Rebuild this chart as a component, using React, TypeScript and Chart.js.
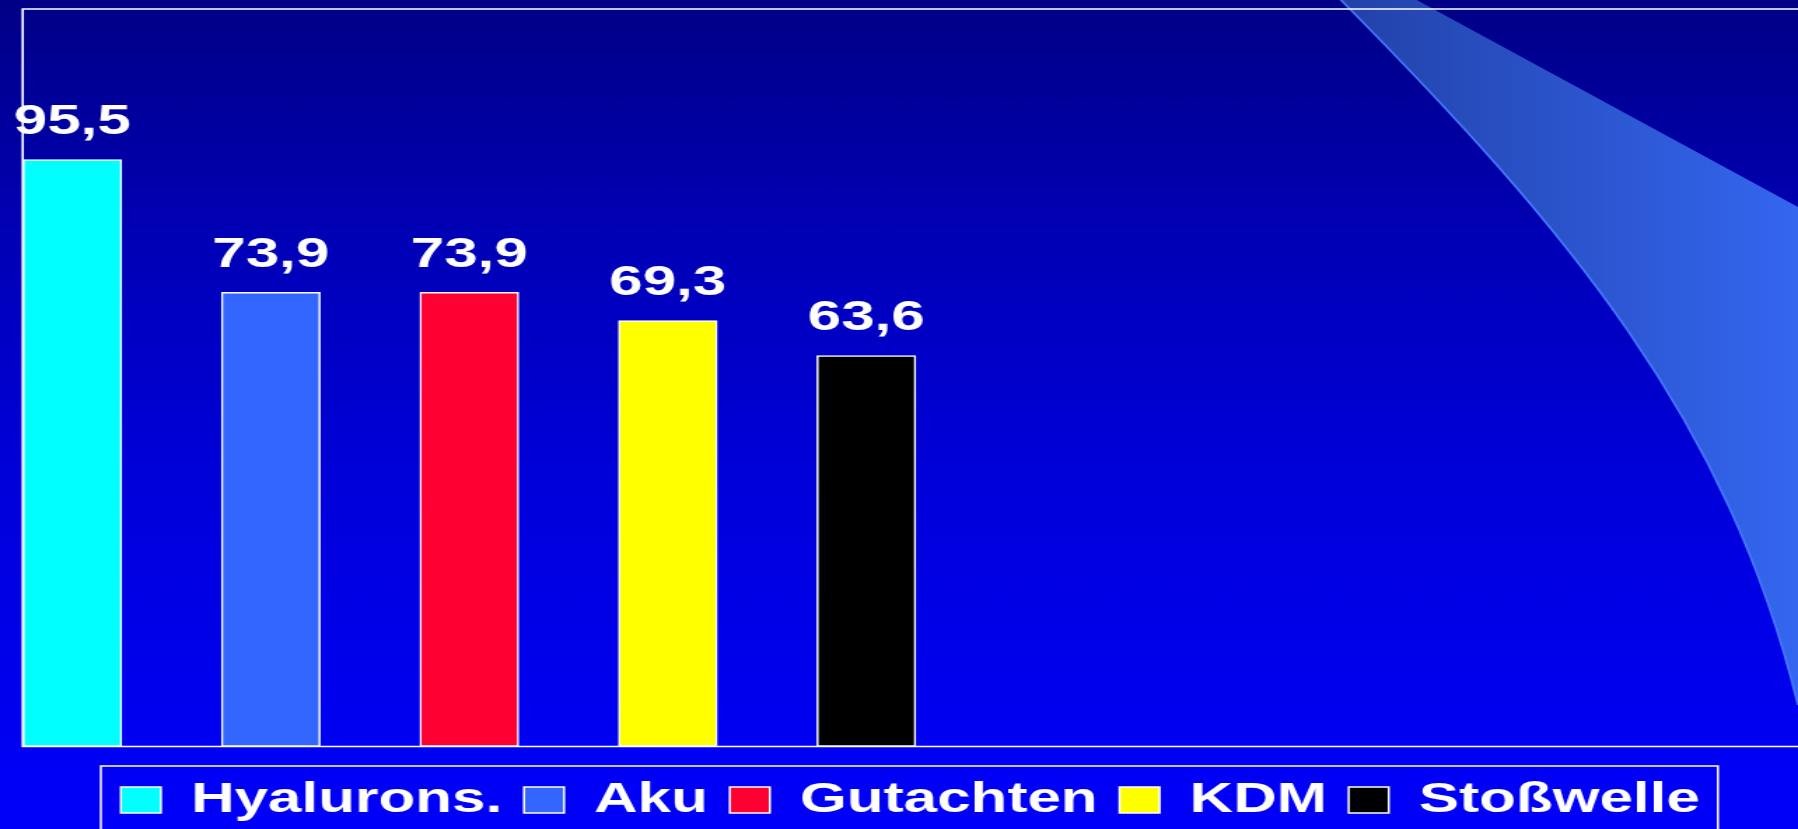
import React, { useEffect, useRef } from 'react';
import { Chart, registerables } from 'chart.js';

Chart.register(...registerables);

// ---- data ----
const categories = ['Hyalurons.', 'Aku', 'Gutachten', 'KDM', 'Stoßwelle'];
const values = [95.5, 73.9, 73.9, 69.3, 63.6];
const colors = ['#00FFFF', '#3366FF', '#FF0033', '#FFFF00', '#000000'];
const yMin = 0;
const yMax = 120;

// ---- geometry (the slide is a 4:3 picture stretched horizontally) ----
const FULL_W = 1798;
const H = 829;
const CW = 1284; // drawing width of the canvas, stretched by CSS to FULL_W
const S = FULL_W / CW;

const fmt = (v: number) => v.toFixed(1).replace('.', ',');

const backgroundPlugin = {
  id: 'slideBackground',
  beforeDraw(chart: any) {
    const ctx = chart.ctx as CanvasRenderingContext2D;
    ctx.save();
    const g = ctx.createLinearGradient(0, 0, 0, H);
    g.addColorStop(0, '#000086');
    g.addColorStop(0.3, '#0000B8');
    g.addColorStop(0.6, '#0000DC');
    g.addColorStop(1, '#0000FA');
    ctx.fillStyle = g;
    ctx.fillRect(0, 0, CW, H);

    // decorative swoosh (full-size coordinates converted to canvas units)
    const X = (x: number) => x / S;
    const band = ctx.createLinearGradient(X(1340), 0, X(1798), 0);
    band.addColorStop(0, 'rgb(34,66,168)');
    band.addColorStop(1, 'rgb(52,102,240)');
    ctx.beginPath();
    ctx.moveTo(X(1339), -2);
    ctx.bezierCurveTo(X(1569), 230, X(1728), 420, X(1798), 705);
    ctx.lineTo(X(1800), 705);
    ctx.lineTo(X(1800), 208);
    ctx.lineTo(X(1413), -2);
    ctx.closePath();
    ctx.fillStyle = band;
    ctx.fill();
    ctx.beginPath();
    ctx.moveTo(X(1339), -2);
    ctx.bezierCurveTo(X(1569), 230, X(1728), 420, X(1798), 705);
    ctx.strokeStyle = 'rgb(70,120,255)';
    ctx.lineWidth = 1.6;
    ctx.stroke();
    ctx.restore();
  },
};

const framePlugin = {
  id: 'plotFrame',
  beforeDatasetsDraw(chart: any) {
    const { ctx, chartArea } = chart;
    ctx.save();
    ctx.strokeStyle = '#FFFFFF';
    ctx.lineWidth = 1.6;
    ctx.beginPath();
    ctx.moveTo(CW + 5, chartArea.top);
    ctx.lineTo(chartArea.left, chartArea.top);
    ctx.lineTo(chartArea.left, chartArea.bottom);
    ctx.lineTo(CW + 5, chartArea.bottom);
    ctx.stroke();
    ctx.restore();
  },
};

const valueLabelPlugin = {
  id: 'valueLabels',
  afterDatasetsDraw(chart: any) {
    const ctx = chart.ctx as CanvasRenderingContext2D;
    ctx.save();
    ctx.font = 'bold 43px "Liberation Sans", Arial, sans-serif';
    ctx.fillStyle = '#FFFFFF';
    ctx.textAlign = 'center';
    ctx.textBaseline = 'alphabetic';
    chart.data.datasets.forEach((ds: any, i: number) => {
      const meta = chart.getDatasetMeta(i);
      meta.data.forEach((el: any, j: number) => {
        const v = ds.data[j].y;
        ctx.fillText(fmt(v), el.x, el.y - 25.5);
      });
    });
    ctx.restore();
  },
};

const legendBoxPlugin = {
  id: 'legendFrame',
  afterDraw(chart: any) {
    const lg = chart.legend;
    if (!lg || !lg.legendHitBoxes || !lg.legendHitBoxes.length) return;
    const hb = lg.legendHitBoxes;
    const first = hb[0];
    const last = hb[hb.length - 1];
    const left = first.left - 14.3;
    const right = last.left + last.width + 12.9;
    const ctx = chart.ctx as CanvasRenderingContext2D;
    ctx.save();
    ctx.strokeStyle = '#FFFFFF';
    ctx.lineWidth = 1.5;
    ctx.strokeRect(left, 766, right - left, 80);
    ctx.restore();
  },
};

export default function App() {
  const ref = useRef<HTMLCanvasElement | null>(null);

  useEffect(() => {
    if (!ref.current) return;
    const plotLeft = 16.2;
    const step = 141.75; // pixels per category unit (canvas units)
    const xMin = -0.25;
    const xMax = xMin + (CW - plotLeft) / step;

    const chart = new Chart(ref.current, {
      type: 'bar',
      data: {
        datasets: categories.map((c, i) => ({
          label: c,
          data: [{ x: i, y: values[i] }],
          backgroundColor: colors[i],
          borderColor: '#FFFFFF',
          borderWidth: 1.5,
          borderSkipped: false,
          barThickness: 70.5,
          grouped: false,
        })),
      },
      options: {
        animation: false,
        responsive: false,
        devicePixelRatio: 1,
        layout: { padding: { top: 9, left: plotLeft, right: 0, bottom: -2.5 } },
        scales: {
          x: {
            type: 'linear',
            offset: false,
            min: xMin,
            max: xMax,
            display: true,
            grid: { display: false, offset: false, drawTicks: true, tickLength: 16.4 },
            border: { display: false },
            ticks: { display: false },
          },
          y: { min: yMin, max: yMax, display: false },
        },
        plugins: {
          legend: {
            position: 'bottom',
            fullSize: false,
            align: 'center',
            labels: {
              color: '#FFFFFF',
              font: { family: '"Liberation Sans", Arial, sans-serif', weight: 'bold', size: 43, lineHeight: 1 },
              boxWidth: 28.6,
              boxHeight: 26,
              padding: 15.6,
            },
          },
          tooltip: { enabled: false },
        },
      } as any,
      plugins: [backgroundPlugin, framePlugin, valueLabelPlugin, legendBoxPlugin],
    });
    return () => chart.destroy();
  }, []);

  return (
    <div style={{ position: 'fixed', left: 0, top: 0, width: FULL_W, height: H, overflow: 'hidden' }}>
      <canvas
        ref={ref}
        width={CW}
        height={H}
        style={{ display: 'block', width: FULL_W + 'px', height: H + 'px' }}
      />
    </div>
  );
}
